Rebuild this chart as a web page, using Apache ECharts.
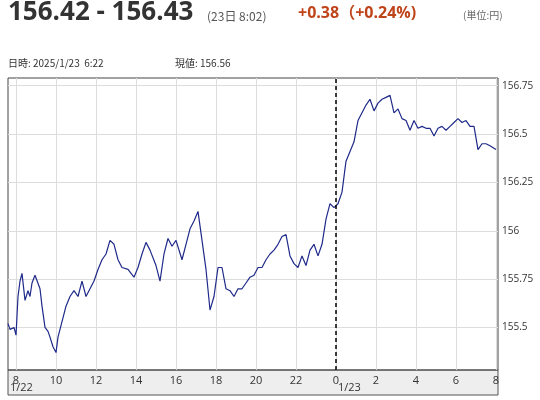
<!DOCTYPE html>
<html><head><meta charset="utf-8">
<script src="https://cdn.jsdelivr.net/npm/echarts@6/dist/echarts.min.js"></script>
<style>html,body{margin:0;background:#fff}#c{width:540px;height:400px}</style>
</head><body><div id="c"></div>
<script>
// 時刻 (1/22 0時からの時間) と レート
const hours = [7.6, 7.7, 7.8, 7.9, 8.0, 8.1, 8.2, 8.3, 8.45, 8.6, 8.7, 8.8, 8.95, 9.05, 9.2, 9.3, 9.45, 9.6, 9.7, 9.85, 10.0, 10.1,
  10.3, 10.5, 10.7, 10.9, 11.1, 11.3, 11.5, 11.7, 11.9, 12.1, 12.3, 12.5, 12.7, 12.9, 13.1, 13.3, 13.6, 13.9, 14.1, 14.3,
  14.5, 14.7, 15.0, 15.2, 15.4, 15.6, 15.8, 16.0, 16.3, 16.5, 16.7, 16.9, 17.1, 17.3, 17.5, 17.7, 17.9, 18.1, 18.3,
  18.5, 18.7, 18.9, 19.1, 19.3, 19.5, 19.7, 19.9, 20.1, 20.3, 20.5, 20.7, 20.9, 21.1, 21.3, 21.5, 21.7, 21.9, 22.1,
  22.3, 22.5, 22.7, 22.9, 23.1, 23.3, 23.5, 23.7, 23.9, 24.1, 24.3, 24.5, 24.7, 24.9, 25.1, 25.3, 25.5, 25.7, 25.9,
  26.1, 26.3, 26.5, 26.7, 26.9, 27.1, 27.3, 27.5, 27.7, 27.9, 28.1, 28.3, 28.5, 28.7, 28.9, 29.1, 29.3, 29.5, 29.7,
  29.9, 30.1, 30.3, 30.5, 30.7, 30.9, 31.1, 31.3, 31.5, 31.7, 31.8, 32.0];
const rates = [155.52, 155.49, 155.48, 155.50, 155.46, 155.66, 155.74, 155.78, 155.64, 155.69, 155.66, 155.73, 155.77, 155.76, 155.70, 155.61, 155.50, 155.48, 155.45, 155.40, 155.37, 155.45,
  155.53, 155.61, 155.66, 155.69, 155.66, 155.74, 155.66, 155.70, 155.74, 155.80, 155.85, 155.88, 155.95, 155.93, 155.85, 155.81, 155.80, 155.76, 155.81, 155.88,
  155.94, 155.90, 155.82, 155.74, 155.88, 155.96, 155.92, 155.95, 155.85, 155.93, 156.01, 156.05, 156.10, 155.95, 155.80, 155.59, 155.66, 155.81, 155.81,
  155.70, 155.69, 155.66, 155.70, 155.70, 155.73, 155.76, 155.77, 155.81, 155.81, 155.85, 155.88, 155.90, 155.93, 155.97, 155.98, 155.87, 155.83, 155.81,
  155.87, 155.82, 155.90, 155.93, 155.87, 155.93, 156.06, 156.14, 156.12, 156.14, 156.20, 156.36, 156.41, 156.46, 156.57, 156.61, 156.65, 156.68, 156.62,
  156.66, 156.68, 156.69, 156.70, 156.61, 156.63, 156.58, 156.57, 156.52, 156.57, 156.53, 156.54, 156.53, 156.53, 156.49, 156.53, 156.54, 156.52, 156.54,
  156.56, 156.58, 156.56, 156.57, 156.54, 156.54, 156.42, 156.45, 156.45, 156.44, 156.43, 156.42];
const xTicks = [8, 10, 12, 14, 16, 18, 20, 22, 24, 26, 28, 30, 32];
const yTicks = [155.5, 155.75, 156, 156.25, 156.5, 156.75];

const chart = echarts.init(document.getElementById('c'));
const font = '"Open Sans", "Noto Sans CJK JP", sans-serif';
const jp = '"Noto Sans CJK JP", sans-serif';
chart.setOption({
  animation: false,
  textStyle: { fontFamily: font },
  grid: { left: 8, top: 78, right: 42, bottom: 30, show: true, borderColor: '#444', borderWidth: 1 },
  graphic: [
    { type: 'rect', shape: { x: 8, y: 370, width: 490, height: 25 }, style: { fill: '#eeeeee', stroke: '#555', lineWidth: 1 }, z: -1 },
    { type: 'text', left: 8, top: 0, style: { text: '156.42 - 156.43', font: 'bold 26px ' + font, fill: '#333' } },
    { type: 'text', left: 207, top: 10, style: { text: '(23日 8:02)', font: '12px ' + jp, fill: '#555' } },
    { type: 'text', left: 298, top: 5, style: { text: '+0.38（+0.24%)', font: 'bold 16px ' + font, fill: '#c0441a' } },
    { type: 'text', left: 463, top: 10, style: { text: '(単位:円)', font: '10px ' + jp, fill: '#666' } },
    { type: 'text', left: 8, top: 58, style: { text: '日時: 2025/1/23  6:22', font: '10px ' + jp, fill: '#333' } },
    { type: 'text', left: 175, top: 58, style: { text: '現値: 156.56', font: '10px ' + jp, fill: '#333' } },
    { type: 'text', left: 10, top: 382, style: { text: '1/22', font: '11px ' + font, fill: '#333' } },
    { type: 'text', left: 338, top: 382, style: { text: '1/23', font: '11px ' + font, fill: '#333' } }
  ],
  xAxis: {
    type: 'value', min: 7.6, max: 32.1,
    axisLine: { show: false },
    axisTick: { show: false, customValues: xTicks },
    splitLine: { show: true, lineStyle: { color: '#dddddd' } },
    axisLabel: {
      customValues: xTicks, color: '#333', fontSize: 11, margin: 5,
      formatter: v => String(v % 24)
    }
  },
  yAxis: {
    type: 'value', position: 'right', min: 155.28, max: 156.79,
    axisLine: { show: false },
    axisTick: { show: false, customValues: yTicks },
    splitLine: { show: true, lineStyle: { color: '#dddddd' } },
    axisLabel: { customValues: yTicks, color: '#333', fontSize: 10, margin: 4 }
  },
  series: [{
    type: 'line', showSymbol: false,
    data: hours.map((h, i) => [h, rates[i]]),
    lineStyle: { color: '#1f2a8a', width: 1.2 },
    markLine: {
      silent: true, symbol: 'none', label: { show: false },
      lineStyle: { color: '#000', type: [4, 3], width: 1.5 },
      data: [{ xAxis: 24 }]
    }
  }]
});
</script></body></html>
